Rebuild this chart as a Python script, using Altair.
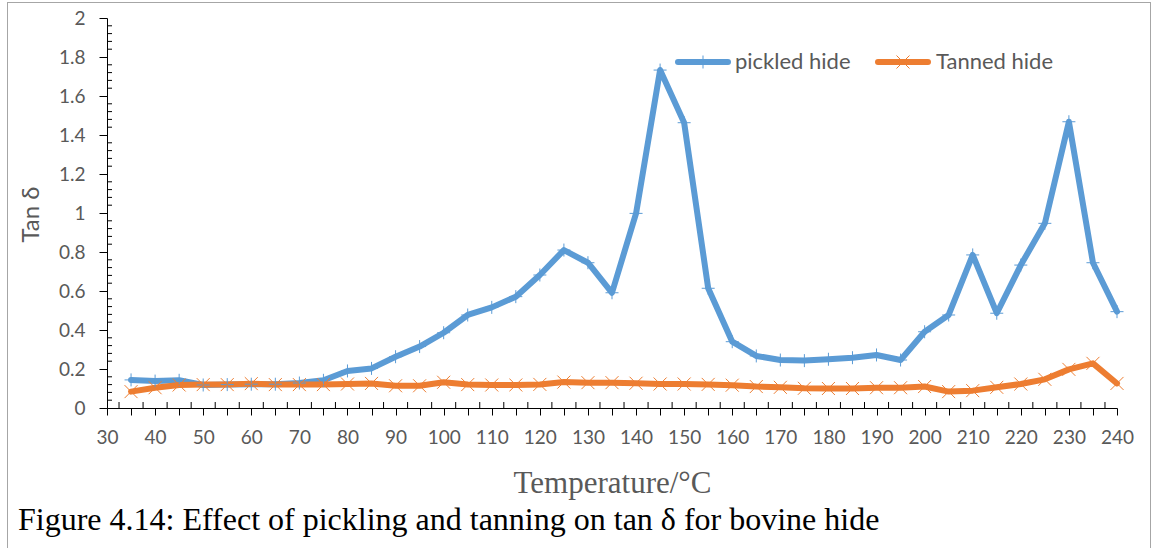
import json
import altair as alt
import pandas as pd

# Temperature steps (°C) and tan delta readings for the two hide treatments
temperature = [35, 40, 45, 50, 55, 60, 65, 70, 75, 80, 85, 90, 95, 100, 105,
               110, 115, 120, 125, 130, 135, 140, 145, 150, 155, 160, 165, 170,
               175, 180, 185, 190, 195, 200, 205, 210, 215, 220, 225, 230, 235, 240]
pickled_hide = [0.144, 0.138, 0.142, 0.118, 0.120, 0.122, 0.122, 0.128, 0.142, 0.190,
                0.203, 0.263, 0.315, 0.386, 0.477, 0.516, 0.571, 0.682, 0.810, 0.745,
                0.591, 0.998, 1.733, 1.463, 0.614, 0.340, 0.267, 0.246, 0.243, 0.250,
                0.258, 0.272, 0.246, 0.391, 0.477, 0.785, 0.486, 0.733, 0.947, 1.468,
                0.745, 0.494]
tanned_hide = [0.084, 0.104, 0.118, 0.120, 0.120, 0.125, 0.120, 0.120, 0.120, 0.123,
               0.126, 0.114, 0.114, 0.132, 0.120, 0.118, 0.118, 0.121, 0.133, 0.130,
               0.130, 0.127, 0.123, 0.123, 0.121, 0.117, 0.110, 0.106, 0.101, 0.100,
               0.100, 0.104, 0.104, 0.110, 0.084, 0.089, 0.106, 0.123, 0.147, 0.198,
               0.229, 0.126]

series_names = ["pickled hide", "Tanned hide"]
series_colors = ["#5B9BD5", "#ED7D31"]
marker_paths = ["M-1,0H1M0,-1V1", "M-1,-1L1,1M-1,1L1,-1"]

x_ticks = [30, 35, 40, 45, 50, 55, 60, 65, 70, 75, 80, 85, 90, 95, 100, 105, 110,
           115, 120, 125, 130, 135, 140, 145, 150, 155, 160, 165, 170, 175, 180,
           185, 190, 195, 200, 205, 210, 215, 220, 225, 230, 235, 240]
y_ticks = [0, 0.2, 0.4, 0.6, 0.8, 1, 1.2, 1.4, 1.6, 1.8, 2]
x_minor = [t + 2.5 for t in x_ticks[:-1]]
y_minor = [i * 0.04 for i in range(1, 50) if i % 5]

caption = "Figure 4.14: Effect of pickling and tanning on tan δ for bovine hide"

df = pd.DataFrame({
    "Temperature": temperature * 2,
    "tan_delta": pickled_hide + tanned_hide,
    "series": [series_names[0]] * len(temperature) + [series_names[1]] * len(temperature),
})

GRAY = "#595959"
PLOT_W, PLOT_H = 1010, 390
PAD = {"left": 107, "top": 18, "right": 35, "bottom": 140}

x_scale = alt.Scale(domain=[30, 240], nice=False, zero=False)
y_scale = alt.Scale(domain=[0, 2], nice=False)
color_scale = alt.Scale(domain=series_names, range=series_colors)
shape_scale = alt.Scale(domain=series_names, range=marker_paths)

x_axis = alt.Axis(
    values=x_ticks,
    labelExpr="datum.value % 10 === 0 ? datum.label : ''",
    grid=False, tickSize=7, tickColor="black", domainColor="black",
    labelFont="Lato", labelFontSize=19, labelColor=GRAY, labelPadding=13,
    labelFlush=False, labelOverlap=False,
    title="Temperature/°C", titleFont="Liberation Serif", titleFontSize=31,
    titleFontWeight="normal", titleColor=GRAY, titleBaseline="alphabetic",
    titleY=84,
)
y_axis = alt.Axis(
    values=y_ticks, format="~g", labelOverlap=False, labelFlush=False,
    grid=False, tickSize=8, tickColor="black", domainColor="black",
    labelFont="Lato", labelFontSize=19, labelColor=GRAY, labelPadding=14,
    title="Tan δ", titleFont="Lato", titleFontSize=24, titleFontWeight="normal",
    titleColor=GRAY, titleAngle=270, titleAlign="center", titleBaseline="middle",
    titleX=-76, titleY=196,
)

X = alt.X("Temperature:Q", scale=x_scale, axis=x_axis)
Y = alt.Y("tan_delta:Q", scale=y_scale, axis=y_axis)

lines = alt.Chart(df).mark_line(
    strokeWidth=6, strokeCap="round", strokeJoin="round"
).encode(
    x=X, y=Y,
    color=alt.Color("series:N", scale=color_scale, legend=None),
)

markers = alt.Chart(df).mark_point(filled=False, strokeWidth=1, size=169, opacity=1).encode(
    x=X, y=Y,
    color=alt.Color("series:N", scale=color_scale, legend=None),
    shape=alt.Shape("series:N", scale=shape_scale, legend=None),
)

# minor tick marks drawn inside the plot along both axes
x_minor_ticks = alt.Chart(pd.DataFrame({"Temperature": x_minor})).mark_rule(
    color="black", strokeWidth=1
).encode(
    x=X, y=alt.value(PLOT_H - 6), y2=alt.value(PLOT_H),
)
y_minor_ticks = alt.Chart(pd.DataFrame({"tan_delta": y_minor})).mark_rule(
    color="black", strokeWidth=1
).encode(
    y=Y, x=alt.value(0), x2=alt.value(5),
)

# legend inside the plot, top right: line sample with marker, then label
LEG_X, LEG_Y, LEG_STEP = 568, 44, 200
legend_base = alt.Chart(pd.DataFrame({"series": series_names})).transform_calculate(
    slot=f"indexof({json.dumps(series_names)}, datum.series)"
).transform_calculate(
    x0=f"{LEG_X + 3} + {LEG_STEP} * datum.slot",
    x1=f"{LEG_X + 53} + {LEG_STEP} * datum.slot",
    xm=f"{LEG_X + 28} + {LEG_STEP} * datum.slot",
    xt=f"{LEG_X + 60} + {LEG_STEP + 1} * datum.slot",
)
legend_lines = legend_base.mark_rule(strokeWidth=6, strokeCap="round").encode(
    x=alt.X("x0:Q", scale=None), x2="x1:Q", y=alt.value(LEG_Y),
    color=alt.Color("series:N", scale=color_scale, legend=None),
)
legend_marks = legend_base.mark_point(filled=False, strokeWidth=1, size=169, opacity=1).encode(
    x=alt.X("xm:Q", scale=None), y=alt.value(LEG_Y),
    color=alt.Color("series:N", scale=color_scale, legend=None),
    shape=alt.Shape("series:N", scale=shape_scale, legend=None),
)
legend_text = legend_base.mark_text(
    align="left", baseline="middle", font="Lato", fontSize=22, color=GRAY
).encode(x=alt.X("xt:Q", scale=None), y=alt.value(LEG_Y), text="series:N")

# outer frame
one = pd.DataFrame({"k": [0]})
frame_left = alt.Chart(one).mark_rule(color="#A6A6A6", strokeWidth=1).encode(
    x=alt.value(-99.5), y=alt.value(-16), y2=alt.value(540))
frame_right = alt.Chart(one).mark_rule(color="#A6A6A6", strokeWidth=1).encode(
    x=alt.value(1043.5), y=alt.value(-16), y2=alt.value(540))
frame_top = alt.Chart(one).mark_rule(color="#A6A6A6", strokeWidth=1).encode(
    x=alt.value(-99.5), x2=alt.value(1043.5), y=alt.value(-15.5))

caption_text = alt.Chart(pd.DataFrame({"caption": [caption]})).mark_text(
    align="left", baseline="alphabetic", font="Liberation Serif", fontSize=32, color="black"
).encode(x=alt.value(-89), y=alt.value(512), text="caption:N")

chart = alt.layer(
    lines,
    frame_left, frame_right, frame_top,
    x_minor_ticks, y_minor_ticks,
    markers,
    legend_lines, legend_marks, legend_text,
    caption_text,
).properties(
    width=PLOT_W, height=PLOT_H, padding=PAD,
    autosize=alt.AutoSizeParams(type="none"),
    background="white",
).configure_view(stroke=None)

chart.save("out.html", embed_options={"renderer": "svg", "actions": False})
